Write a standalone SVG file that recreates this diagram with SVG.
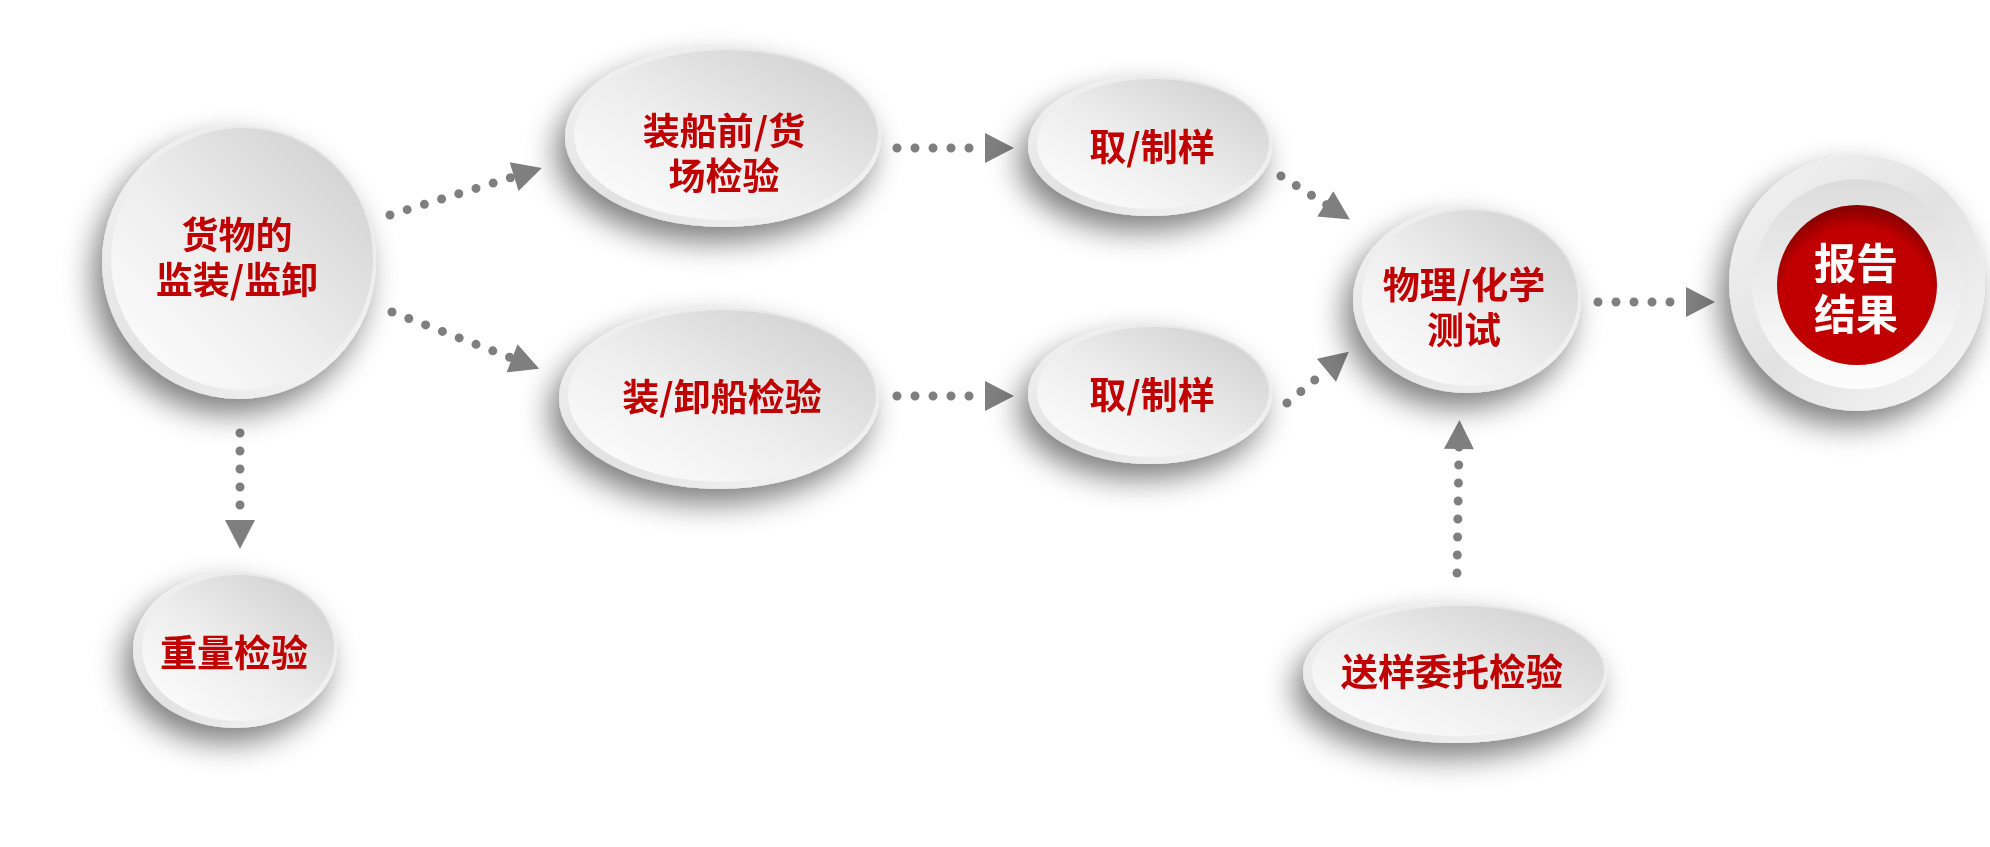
<svg xmlns="http://www.w3.org/2000/svg" width="1990" height="847" viewBox="0 0 1990 847">
<style>
.t{font-family:"Noto Sans CJK SC","Noto Sans",sans-serif;font-weight:bold;font-size:37px;fill:#C00000;text-anchor:middle}
.w{fill:#ffffff;font-size:42px}
.rim{fill:url(#gRim)}
.face{fill:url(#gFace)}
.con{fill:none;stroke:#7f7f7f;stroke-width:9;stroke-linecap:round;stroke-dasharray:0 18}
</style>
<defs>
<linearGradient id="gFace" x1="1" y1="0" x2="0" y2="1">
<stop offset="0" stop-color="#cccccc"/>
<stop offset="0.55" stop-color="#eeeeee"/>
<stop offset="1" stop-color="#ffffff"/>
</linearGradient>
<linearGradient id="gRim" x1="0" y1="0" x2="1" y2="1">
<stop offset="0" stop-color="#f4f4f4"/>
<stop offset="0.5" stop-color="#e2e2e2"/>
<stop offset="1" stop-color="#f8f8f8"/>
</linearGradient>
<linearGradient id="gRing" x1="0" y1="0" x2="0" y2="1">
<stop offset="0" stop-color="#dcdcdc"/>
<stop offset="1" stop-color="#fdfdfd"/>
</linearGradient>
<radialGradient id="gRed" cx="0.5" cy="0.62" r="0.6">
<stop offset="0.8" stop-color="#c00000"/>
<stop offset="1" stop-color="#8a0000"/>
</radialGradient>
<filter id="sh" x="-40%" y="-40%" width="180%" height="190%">
<feGaussianBlur in="SourceAlpha" stdDeviation="15"/>
<feOffset dx="-9" dy="15" result="b"/>
<feFlood flood-color="#000" flood-opacity="0.5"/>
<feComposite in2="b" operator="in"/>
<feMerge><feMergeNode/><feMergeNode in="SourceGraphic"/></feMerge>
</filter>
<marker id="ah" markerUnits="userSpaceOnUse" markerWidth="32" markerHeight="34" viewBox="0 0 32 34" refX="4" refY="17" orient="auto">
<path d="M2,2 L31,17 L2,32 Z" fill="#7f7f7f"/>
</marker>
</defs>
<rect width="1990" height="847" fill="#ffffff"/>

<g id="connectors">
<path class="con" d="M390,215 L516,176" marker-end="url(#ah)"/>
<path class="con" d="M392,312 L514,359" marker-end="url(#ah)"/>
<path class="con" d="M897,148 L987,148" marker-end="url(#ah)"/>
<path class="con" d="M897,396 L987,396" marker-end="url(#ah)"/>
<path class="con" d="M1281,176 L1327,205" marker-end="url(#ah)"/>
<path class="con" d="M1287,403 L1328,369" marker-end="url(#ah)"/>
<path class="con" d="M1598,302 L1688,302" marker-end="url(#ah)"/>
<path class="con" d="M1457,573 L1459,447" marker-end="url(#ah)"/>
<path class="con" d="M240,433 L240,522" marker-end="url(#ah)"/>
</g>

<g id="n-cargo" filter="url(#sh)">
<circle class="rim" cx="239" cy="262" r="137"/>
<circle class="face" cx="242" cy="259" r="131"/>
<text class="t"><tspan x="237" y="249">货物的</tspan><tspan x="237" y="294">监装/监卸</tspan></text>
</g>

<g id="n-preship" filter="url(#sh)">
<ellipse class="rim" cx="723" cy="137" rx="158" ry="90"/>
<ellipse class="face" cx="726" cy="135" rx="152" ry="85"/>
<text class="t"><tspan x="724" y="145">装船前/货</tspan><tspan x="724" y="190">场检验</tspan></text>
</g>

<g id="n-loading" filter="url(#sh)">
<ellipse class="rim" cx="719" cy="398" rx="160" ry="91"/>
<ellipse class="face" cx="722" cy="396" rx="154" ry="86"/>
<text class="t" x="722" y="411">装/卸船检验</text>
</g>

<g id="n-sample1" filter="url(#sh)">
<ellipse class="rim" cx="1150" cy="146" rx="122" ry="70"/>
<ellipse class="face" cx="1153" cy="144" rx="116" ry="65"/>
<text class="t" x="1152" y="161">取/制样</text>
</g>

<g id="n-sample2" filter="url(#sh)">
<ellipse class="rim" cx="1150" cy="394" rx="122" ry="70"/>
<ellipse class="face" cx="1153" cy="392" rx="116" ry="65"/>
<text class="t" x="1152" y="409">取/制样</text>
</g>

<g id="n-test" filter="url(#sh)">
<ellipse class="rim" cx="1467" cy="300" rx="114" ry="93"/>
<ellipse class="face" cx="1470" cy="298" rx="108" ry="88"/>
<text class="t"><tspan x="1464" y="299">物理/化学</tspan><tspan x="1464" y="344">测试</tspan></text>
</g>

<g id="n-report" filter="url(#sh)">
<circle fill="url(#gRim)" cx="1857" cy="283" r="128"/>
<circle fill="url(#gRing)" cx="1857" cy="284" r="105"/>
<circle fill="url(#gRed)" cx="1857" cy="285" r="80"/>
<text class="t w"><tspan x="1856" y="279">报告</tspan><tspan x="1856" y="330">结果</tspan></text>
</g>

<g id="n-weight" filter="url(#sh)">
<ellipse class="rim" cx="235" cy="650" rx="102" ry="78"/>
<ellipse class="face" cx="238" cy="648" rx="96" ry="73"/>
<text class="t" x="234" y="667">重量检验</text>
</g>

<g id="n-entrust" filter="url(#sh)">
<ellipse class="rim" cx="1455" cy="673" rx="152" ry="70"/>
<ellipse class="face" cx="1458" cy="671" rx="146" ry="65"/>
<text class="t" x="1452" y="686">送样委托检验</text>
</g>
</svg>
